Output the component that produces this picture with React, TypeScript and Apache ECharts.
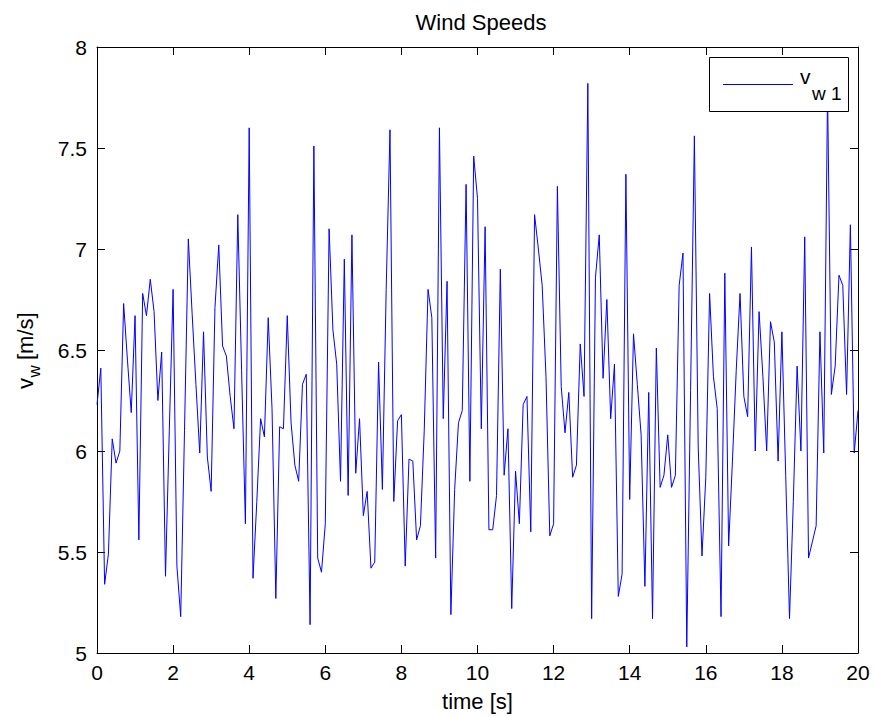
import React, { useEffect, useRef } from "react";
import * as echarts from "echarts";

// Sampling step of the time axis [s]
const timeStep = 0.1;

// Wind speed samples v_w1 [m/s], in five consecutive blocks
const windPart1 = [
  6.23, 6.41, 5.34, 5.49, 6.06, 5.94, 6.0, 6.73, 6.45, 6.19,
  6.67, 5.56, 6.78, 6.67, 6.85, 6.69, 6.25, 6.49, 5.38, 6.1,
  6.8, 5.43, 5.18, 6.1, 7.05, 6.68, 6.33, 5.99, 6.59, 5.97,
  5.8, 6.71, 7.02, 6.52, 6.47, 6.27, 6.11, 7.17, 6.4, 5.64,
];
const windPart2 = [
  7.6, 5.37, 5.75, 6.16, 6.07, 6.66, 6.21, 5.27, 6.12, 6.11,
  6.67, 6.14, 5.93, 5.85, 6.33, 6.38, 5.14, 7.51, 5.47, 5.4,
  5.64, 7.1, 6.6, 6.43, 5.85, 6.95, 5.78, 7.07, 5.89, 6.16,
  5.68, 5.8, 5.42, 5.45, 6.44, 5.81, 6.8, 7.59, 5.75, 6.15,
];
const windPart3 = [
  6.18, 5.43, 5.96, 5.95, 5.56, 5.63, 6.1, 6.8, 6.66, 5.47,
  7.6, 6.16, 6.84, 5.19, 5.81, 6.14, 6.2, 7.32, 5.85, 7.46,
  7.25, 6.11, 7.11, 5.61, 5.61, 5.78, 6.9, 5.88, 6.11, 5.22,
  5.9, 5.64, 6.23, 6.27, 5.6, 7.17, 7.0, 6.82, 6.37, 5.58,
];
const windPart4 = [
  5.64, 7.31, 6.32, 6.09, 6.29, 5.87, 5.93, 6.53, 6.27, 7.82,
  5.17, 6.86, 7.07, 6.36, 6.75, 6.16, 6.43, 5.28, 5.39, 7.37,
  5.76, 6.58, 6.33, 6.08, 5.33, 6.29, 5.17, 6.51, 5.82, 5.88,
  6.08, 5.82, 5.88, 6.82, 6.98, 5.03, 6.3, 7.56, 6.02, 5.48,
];
const windPart5 = [
  5.87, 6.78, 6.37, 6.21, 5.18, 6.88, 5.53, 5.95, 6.4, 6.78,
  6.27, 6.17, 7.01, 6.0, 6.69, 6.37, 6.0, 6.64, 6.54, 5.95,
  6.59, 5.88, 5.17, 5.75, 6.42, 6.0, 7.06, 5.47, 5.55, 5.63,
  6.59, 5.99, 7.78, 6.28, 6.42, 6.87, 6.82, 6.28, 7.12, 5.99,
  6.2,
];

const windSpeeds = [...windPart1, ...windPart2, ...windPart3, ...windPart4, ...windPart5];

const seriesName = "v_w1";
const titleText = "Wind Speeds";
const xName = "time [s]";
const yNameMain = "v";
const yNameSub = "w";
const yNameUnit = "[m/s]";
const legendMain = "v";
const legendSub = "w 1";

const FONT = "'Liberation Sans', Arial, Helvetica, sans-serif";
const BLUE = "#0000ff";

export default function App() {
  const ref = useRef<HTMLDivElement>(null);

  useEffect(() => {
    document.body.style.margin = "0";
    if (!ref.current) return;
    const chart = echarts.init(ref.current, undefined, { renderer: "svg" });

    const data = windSpeeds.map((v, i) => [Number((i * timeStep).toFixed(1)), v]);

    const axisCommon = {
      axisLine: { show: true, onZero: false, lineStyle: { color: "#000", width: 1 } },
      axisTick: { show: true, inside: true, length: 8, lineStyle: { color: "#000", width: 1 } },
      splitLine: { show: false },
    };

    const txt = (text: string, x: number, y: number, size: number, z = 100) => ({
      type: "text",
      x,
      y,
      z,
      style: {
        text,
        fill: "#000",
        font: `${size}px ${FONT}`,
        fontSize: size,
        fontFamily: FONT,
        textAlign: "left",
        textVerticalAlign: "middle",
        verticalAlign: "middle",
      },
    });

    chart.setOption({
      animation: false,
      backgroundColor: "#fff",
      textStyle: { fontFamily: FONT },
      title: {
        text: titleText,
        left: 476,
        top: 6,
        textAlign: "center",
        textStyle: { fontSize: 22, fontWeight: "normal", color: "#000", fontFamily: FONT },
      },
      grid: { left: 97, right: 17, top: 47, bottom: 63, containLabel: false },
      legend: { show: false, data: [seriesName] },
      xAxis: [
        {
          type: "value",
          min: 0,
          max: 20,
          interval: 2,
          position: "bottom",
          ...axisCommon,
          axisLabel: { show: true, fontSize: 21, color: "#000", margin: 9, fontFamily: FONT },
          name: xName,
          nameLocation: "middle",
          nameGap: 37,
          nameTextStyle: { fontSize: 22, color: "#000", fontFamily: FONT },
        },
        {
          type: "value",
          min: 0,
          max: 20,
          interval: 2,
          position: "top",
          ...axisCommon,
          axisLabel: { show: false },
        },
      ],
      yAxis: [
        {
          type: "value",
          min: 5,
          max: 8,
          interval: 0.5,
          position: "left",
          ...axisCommon,
          axisLabel: { show: true, fontSize: 21, color: "#000", margin: 10, fontFamily: FONT },
        },
        {
          type: "value",
          min: 5,
          max: 8,
          interval: 0.5,
          position: "right",
          ...axisCommon,
          axisLabel: { show: false },
        },
      ],
      graphic: [
        // y-axis label: v_w [m/s], rotated to read bottom-to-top
        {
          type: "group",
          x: 25,
          y: 351,
          rotation: Math.PI / 2,
          z: 100,
          children: [
            txt(yNameMain, -38, 0, 22),
            txt(yNameSub, -26.5, 9, 17),
            txt(yNameUnit, -9, 0, 22),
          ],
        },
        // legend box
        {
          type: "rect",
          z: 100,
          shape: { x: 709.5, y: 57.5, width: 139, height: 54 },
          style: { fill: "#fff", stroke: "#000", lineWidth: 1 },
        },
        {
          type: "line",
          z: 101,
          shape: { x1: 723, y1: 84.5, x2: 793, y2: 84.5 },
          style: { stroke: BLUE, lineWidth: 1 },
        },
        txt(legendMain, 800, 76, 21, 101),
        txt(legendSub, 812, 93, 19, 101),
      ],
      series: [
        {
          name: seriesName,
          type: "line",
          xAxisIndex: 0,
          yAxisIndex: 0,
          data,
          symbol: "none",
          showSymbol: false,
          lineStyle: { color: BLUE, width: 1 },
          itemStyle: { color: BLUE },
          z: 2,
        },
      ],
    });

    return () => {
      chart.dispose();
    };
  }, []);

  return <div ref={ref} style={{ width: 875, height: 717 }} />;
}
